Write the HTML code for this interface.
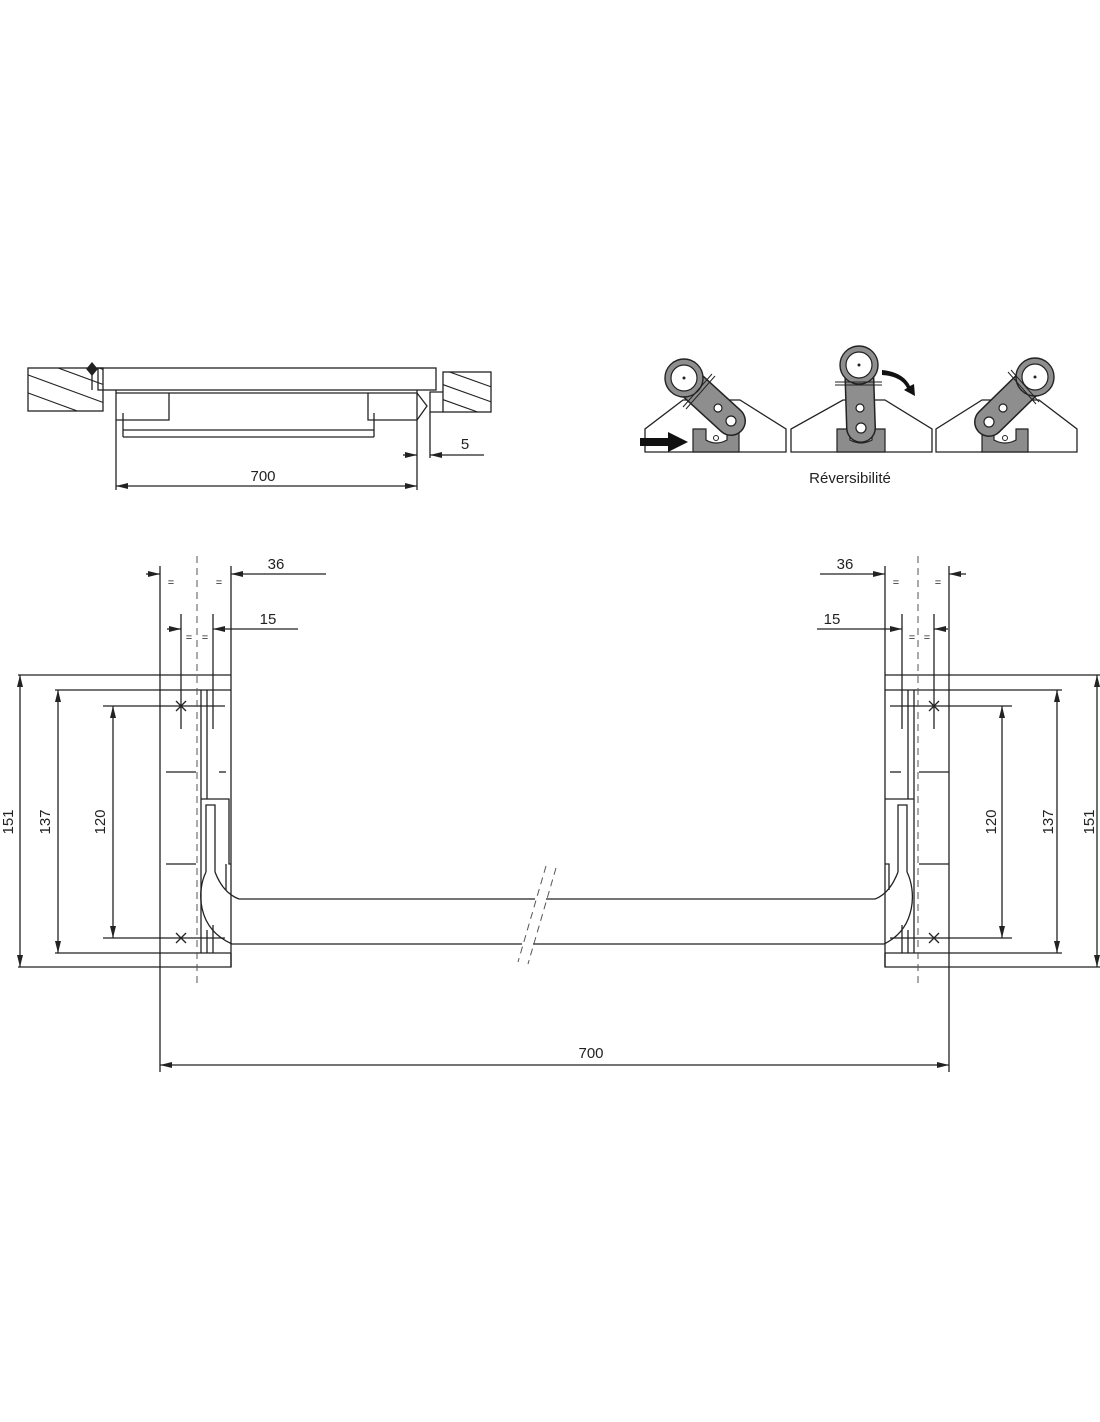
<!DOCTYPE html>
<html><head><meta charset="utf-8"><style>
html,body{margin:0;padding:0;background:#fff;}
svg{display:block;}
text{font-family:"Liberation Sans",sans-serif;fill:#222;}
</style></head><body>
<svg width="1100" height="1422" viewBox="0 0 1100 1422" xmlns="http://www.w3.org/2000/svg">
<defs>
<marker id="a" viewBox="0 0 12 6" refX="12" refY="3" markerWidth="12" markerHeight="6" markerUnits="userSpaceOnUse" orient="auto"><path d="M0,0 L12,3 L0,6 z" fill="#222"/></marker>
<clipPath id="c1"><rect x="28" y="368" width="75" height="43"/></clipPath>
<clipPath id="c2"><rect x="443" y="372" width="48" height="40"/></clipPath>
</defs>
<g stroke="#222" stroke-width="1.3" fill="none">
<rect x="28" y="368" width="75" height="43"/>
<g clip-path="url(#c1)" stroke-width="1.1">
<line x1="20" y1="372" x2="110" y2="405"/><line x1="20" y1="390" x2="110" y2="423"/><line x1="20" y1="354" x2="110" y2="387"/><line x1="50" y1="350" x2="110" y2="372"/>
</g>
<line x1="92" y1="369" x2="92" y2="390"/>
<path d="M92,363 L97,369 L92,375 L87,369 z" fill="#222"/>
<rect x="98" y="368" width="338" height="22"/>
<rect x="443" y="372" width="48" height="40"/>
<g clip-path="url(#c2)" stroke-width="1.1">
<line x1="430" y1="380" x2="500" y2="405"/><line x1="430" y1="395" x2="500" y2="420"/><line x1="430" y1="365" x2="500" y2="390"/><line x1="460" y1="360" x2="500" y2="375"/>
</g>
<polyline points="443,392 430,392 430,412 443,412"/>
<line x1="116" y1="390" x2="116" y2="490"/>
<line x1="116" y1="393" x2="417" y2="393"/>
<polyline points="116,420 169,420 169,393"/>
<polyline points="368,393 368,420 417,420"/>
<line x1="417" y1="390" x2="417" y2="490"/>
<polyline points="417,393 427,406 417,420"/>
<line x1="123" y1="413" x2="123" y2="437"/>
<line x1="374" y1="413" x2="374" y2="437"/>
<line x1="123" y1="430" x2="374" y2="430"/>
<line x1="123" y1="437" x2="374" y2="437"/>
<line x1="430" y1="412" x2="430" y2="458"/>
<line x1="403" y1="455" x2="417" y2="455" marker-end="url(#a)"/>
<line x1="484" y1="455" x2="430" y2="455" marker-end="url(#a)"/>
<line x1="266" y1="486" x2="116" y2="486" marker-end="url(#a)"/>
<line x1="266" y1="486" x2="417" y2="486" marker-end="url(#a)"/>
<polygon points="645,452 645,429 683,400 740,400 786,429 786,452"/>
<polygon points="791,452 791,429 843,400 885,400 932,429 932,452"/>
<polygon points="936,452 936,429 982,400 1039,400 1077,429 1077,452"/>
</g>
<g fill="#8c8c8c" stroke="#222" stroke-width="1.2">
<path d="M693,429 L706,429 L706,440 Q716,446 727,440 L727,429 L739,429 L739,452 L693,452 z"/>
<path d="M837,429 L850,429 L850,440 Q861,446 872,440 L872,429 L885,429 L885,452 L837,452 z"/>
<path d="M982,429 L994,429 L994,440 Q1005,446 1016,440 L1016,429 L1028,429 L1028,452 L982,452 z"/>
</g>
<g fill="#fff" stroke="#222" stroke-width="1"><circle cx="716" cy="438" r="2.5"/><circle cx="861" cy="438" r="2.5"/><circle cx="1005" cy="438" r="2.5"/></g>
<g stroke-linecap="round" fill="none">
<line x1="684" y1="378" x2="731" y2="421" stroke="#222" stroke-width="30"/>
<line x1="684" y1="378" x2="731" y2="421" stroke="#8e8e8e" stroke-width="27"/>
<line x1="859" y1="365" x2="861" y2="428" stroke="#222" stroke-width="30"/>
<line x1="859" y1="365" x2="861" y2="428" stroke="#8e8e8e" stroke-width="27"/>
<line x1="1035" y1="377" x2="989" y2="422" stroke="#222" stroke-width="30"/>
<line x1="1035" y1="377" x2="989" y2="422" stroke="#8e8e8e" stroke-width="27"/>
</g>
<g fill="#8e8e8e" stroke="#222" stroke-width="1.4">
<circle cx="684" cy="378" r="19"/><circle cx="859" cy="365" r="19"/><circle cx="1035" cy="377" r="19"/>
</g>
<g fill="#fff" stroke="#222" stroke-width="1.2">
<circle cx="684" cy="378" r="13"/><circle cx="731" cy="421" r="5"/><circle cx="718" cy="408" r="4"/>
<circle cx="859" cy="365" r="13"/><circle cx="861" cy="428" r="5"/><circle cx="860" cy="408" r="4"/>
<circle cx="1035" cy="377" r="13"/><circle cx="989" cy="422" r="5"/><circle cx="1003" cy="408" r="4"/>
</g>
<g fill="#222"><circle cx="684" cy="378" r="1.5"/><circle cx="859" cy="365" r="1.5"/><circle cx="1035" cy="377" r="1.5"/></g>
<g stroke="#222" stroke-width="1" fill="none">
<line x1="683" y1="407" x2="712" y2="374"/><line x1="686" y1="409" x2="715" y2="376"/>
<line x1="835" y1="382" x2="882" y2="382"/><line x1="835" y1="385" x2="882" y2="385"/>
<line x1="1008" y1="372" x2="1036" y2="404"/><line x1="1011" y1="370" x2="1039" y2="402"/>
</g>
<path d="M640,438 L668,438 L668,432 L688,442 L668,452 L668,446 L640,446 z" fill="#111"/>
<path d="M882,370 Q903,372 910,386 L914,384 L915,396 L904,390 L907,388 Q901,376 882,375 z" fill="#111"/>
<text x="850" y="483" font-size="15" text-anchor="middle">Réversibilité</text>
<text x="263" y="481" font-size="15" text-anchor="middle">700</text>
<text x="465" y="449" font-size="15" text-anchor="middle">5</text>

<g stroke="#222" stroke-width="1.3" fill="none">
<line x1="160" y1="566" x2="160" y2="1072"/>
<line x1="231" y1="566" x2="231" y2="967"/>
<line x1="885" y1="566" x2="885" y2="967"/>
<line x1="949" y1="566" x2="949" y2="1072"/>
<line x1="326" y1="574" x2="231" y2="574" marker-end="url(#a)"/>
<line x1="146" y1="574" x2="160" y2="574" marker-end="url(#a)"/>
<line x1="820" y1="574" x2="885" y2="574" marker-end="url(#a)"/>
<line x1="966" y1="574" x2="949" y2="574" marker-end="url(#a)"/>
<line x1="181" y1="614" x2="181" y2="729"/>
<line x1="213" y1="614" x2="213" y2="729"/>
<line x1="298" y1="629" x2="213" y2="629" marker-end="url(#a)"/>
<line x1="167" y1="629" x2="181" y2="629" marker-end="url(#a)"/>
<line x1="902" y1="614" x2="902" y2="729"/>
<line x1="934" y1="614" x2="934" y2="729"/>
<line x1="817" y1="629" x2="902" y2="629" marker-end="url(#a)"/>
<line x1="948" y1="629" x2="934" y2="629" marker-end="url(#a)"/>
<polyline points="18,675 231,675"/>
<polyline points="18,967 231,967 231,953"/>
<line x1="55" y1="690" x2="231" y2="690"/>
<line x1="55" y1="953" x2="231" y2="953"/>
<line x1="103" y1="706" x2="225" y2="706"/>
<line x1="103" y1="938" x2="225" y2="938"/>
<line x1="201" y1="690" x2="201" y2="953"/>
<line x1="207" y1="690" x2="207" y2="799"/>
<line x1="207" y1="930" x2="207" y2="953"/>
<line x1="213" y1="925" x2="213" y2="953"/>
<line x1="166" y1="772" x2="196" y2="772"/>
<line x1="219" y1="772" x2="226" y2="772"/>
<line x1="166" y1="864" x2="196" y2="864"/>
<polyline points="201,799 229,799 229,864 231,864"/>
<line x1="226" y1="864" x2="226" y2="890"/>
<polyline points="206,872 206,805 215,805 215,872"/>
<path d="M206,872 C197,890 196,928 232,944 L522,944"/>
<path d="M215,872 C220,885 228,895 239,899 L535,899"/>
<line x1="546" y1="899" x2="875" y2="899"/>
<line x1="533" y1="944" x2="884" y2="944"/>
<polyline points="885,675 1100,675"/>
<polyline points="885,953 885,967 1100,967"/>
<line x1="885" y1="690" x2="1062" y2="690"/>
<line x1="885" y1="953" x2="1062" y2="953"/>
<line x1="890" y1="706" x2="1012" y2="706"/>
<line x1="890" y1="938" x2="1012" y2="938"/>
<line x1="914" y1="690" x2="914" y2="953"/>
<line x1="908" y1="690" x2="908" y2="799"/>
<line x1="908" y1="930" x2="908" y2="953"/>
<line x1="902" y1="925" x2="902" y2="953"/>
<line x1="890" y1="772" x2="901" y2="772"/>
<line x1="919" y1="772" x2="949" y2="772"/>
<line x1="919" y1="864" x2="949" y2="864"/>
<polyline points="914,799 885,799"/>
<polyline points="885,864 889,864 889,890"/>
<polyline points="898,872 898,805 907,805 907,872"/>
<path d="M907,872 C916,890 917,928 884,944"/>
<path d="M898,872 C893,885 886,895 875,899"/>
<line x1="20" y1="821" x2="20" y2="675" marker-end="url(#a)"/>
<line x1="20" y1="821" x2="20" y2="967" marker-end="url(#a)"/>
<line x1="58" y1="821" x2="58" y2="690" marker-end="url(#a)"/>
<line x1="58" y1="821" x2="58" y2="953" marker-end="url(#a)"/>
<line x1="113" y1="821" x2="113" y2="706" marker-end="url(#a)"/>
<line x1="113" y1="821" x2="113" y2="938" marker-end="url(#a)"/>
<line x1="1002" y1="821" x2="1002" y2="706" marker-end="url(#a)"/>
<line x1="1002" y1="821" x2="1002" y2="938" marker-end="url(#a)"/>
<line x1="1057" y1="821" x2="1057" y2="690" marker-end="url(#a)"/>
<line x1="1057" y1="821" x2="1057" y2="953" marker-end="url(#a)"/>
<line x1="1097" y1="821" x2="1097" y2="675" marker-end="url(#a)"/>
<line x1="1097" y1="821" x2="1097" y2="967" marker-end="url(#a)"/>
<line x1="555" y1="1065" x2="160" y2="1065" marker-end="url(#a)"/>
<line x1="555" y1="1065" x2="949" y2="1065" marker-end="url(#a)"/>
<path d="M176,701 L186,711 M186,701 L176,711"/>
<path d="M176,933 L186,943 M186,933 L176,943"/>
<path d="M929,701 L939,711 M939,701 L929,711"/>
<path d="M929,933 L939,943 M939,933 L929,943"/>
</g>
<g stroke="#555" stroke-width="1" stroke-dasharray="7,5" fill="none">
<line x1="197" y1="556" x2="197" y2="985"/>
<line x1="918" y1="556" x2="918" y2="985"/>
<line x1="546" y1="866" x2="518" y2="962"/>
<line x1="556" y1="868" x2="528" y2="964"/>
</g>
<g font-size="15" text-anchor="middle">
<text x="276" y="569">36</text><text x="268" y="624">15</text>
<text x="845" y="569">36</text><text x="832" y="624">15</text>
<text x="591" y="1058">700</text>
<text transform="translate(13,822) rotate(-90)">151</text>
<text transform="translate(50,822) rotate(-90)">137</text>
<text transform="translate(105,822) rotate(-90)">120</text>
<text transform="translate(996,822) rotate(-90)">120</text>
<text transform="translate(1053,822) rotate(-90)">137</text>
<text transform="translate(1094,822) rotate(-90)">151</text>
</g>
<g font-size="11" text-anchor="middle">
<text x="171" y="586">=</text><text x="219" y="586">=</text>
<text x="896" y="586">=</text><text x="938" y="586">=</text>
<text x="189" y="641">=</text><text x="205" y="641">=</text>
<text x="912" y="641">=</text><text x="927" y="641">=</text>
</g>
</svg>
</body></html>
